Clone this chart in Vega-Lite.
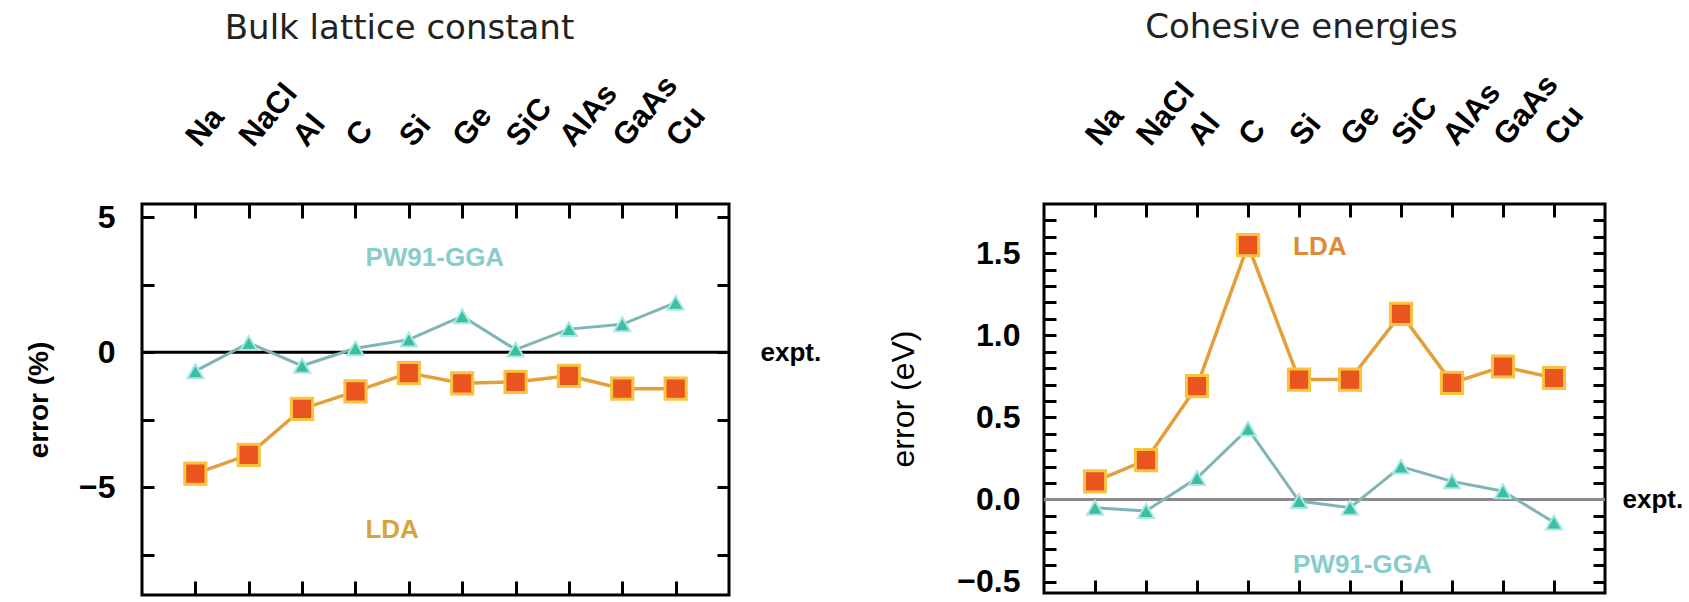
{
  "$schema": "https://vega.github.io/schema/vega-lite/v6.json",
  "background": "white",
  "padding": {"left": 24, "top": 9, "right": 0, "bottom": 0},
  "spacing": 63,
  "datasets": {
    "lattice": [
      {"material": "Na", "method": "LDA", "value": -4.5},
      {"material": "NaCl", "method": "LDA", "value": -3.8},
      {"material": "Al", "method": "LDA", "value": -2.1},
      {"material": "C", "method": "LDA", "value": -1.45},
      {"material": "Si", "method": "LDA", "value": -0.77},
      {"material": "Ge", "method": "LDA", "value": -1.15},
      {"material": "SiC", "method": "LDA", "value": -1.1},
      {"material": "AlAs", "method": "LDA", "value": -0.87},
      {"material": "GaAs", "method": "LDA", "value": -1.35},
      {"material": "Cu", "method": "LDA", "value": -1.35},
      {"material": "Na", "method": "PW91-GGA", "value": -0.7},
      {"material": "NaCl", "method": "PW91-GGA", "value": 0.35},
      {"material": "Al", "method": "PW91-GGA", "value": -0.5},
      {"material": "C", "method": "PW91-GGA", "value": 0.15},
      {"material": "Si", "method": "PW91-GGA", "value": 0.47},
      {"material": "Ge", "method": "PW91-GGA", "value": 1.34},
      {"material": "SiC", "method": "PW91-GGA", "value": 0.1},
      {"material": "AlAs", "method": "PW91-GGA", "value": 0.86},
      {"material": "GaAs", "method": "PW91-GGA", "value": 1.04},
      {"material": "Cu", "method": "PW91-GGA", "value": 1.84}
    ],
    "cohesive": [
      {"material": "Na", "method": "LDA", "value": 0.11},
      {"material": "NaCl", "method": "LDA", "value": 0.24},
      {"material": "Al", "method": "LDA", "value": 0.69},
      {"material": "C", "method": "LDA", "value": 1.55},
      {"material": "Si", "method": "LDA", "value": 0.73},
      {"material": "Ge", "method": "LDA", "value": 0.73},
      {"material": "SiC", "method": "LDA", "value": 1.13},
      {"material": "AlAs", "method": "LDA", "value": 0.71},
      {"material": "GaAs", "method": "LDA", "value": 0.81},
      {"material": "Cu", "method": "LDA", "value": 0.74},
      {"material": "Na", "method": "PW91-GGA", "value": -0.05},
      {"material": "NaCl", "method": "PW91-GGA", "value": -0.07},
      {"material": "Al", "method": "PW91-GGA", "value": 0.13},
      {"material": "C", "method": "PW91-GGA", "value": 0.43},
      {"material": "Si", "method": "PW91-GGA", "value": -0.01},
      {"material": "Ge", "method": "PW91-GGA", "value": -0.05},
      {"material": "SiC", "method": "PW91-GGA", "value": 0.2},
      {"material": "AlAs", "method": "PW91-GGA", "value": 0.11},
      {"material": "GaAs", "method": "PW91-GGA", "value": 0.05},
      {"material": "Cu", "method": "PW91-GGA", "value": -0.14}
    ],
    "lattice_labels": [
      {"material": "C", "value": 3.5, "label": "PW91-GGA"},
      {"material": "C", "value": -6.6, "label": "LDA"}
    ],
    "cohesive_labels": [
      {"material": "Si", "value": 1.54, "label": "LDA"},
      {"material": "Si", "value": -0.4, "label": "PW91-GGA"}
    ],
    "ref": [{"label": "expt.", "value": 0}]
  },
  "hconcat": [
    {
      "width": 587,
      "height": 391,
      "title": {"text": "Bulk lattice constant", "offset": 24, "dx": -36},
      "data": {"name": "lattice"},
      "layer": [
        {
          "data": {"name": "ref"},
          "mark": {"type": "rule", "color": "black", "strokeWidth": 3},
          "encoding": {
            "y": {"field": "value", "type": "quantitative", "axis": null, "scale": {"domain": [-9, 5.5], "nice": false, "zero": false}}
          }
        },
        {
          "transform": [{"filter": "datum.method == 'PW91-GGA'"}],
          "mark": {"type": "line", "color": "#7fb5b5", "strokeWidth": 3},
          "encoding": {
            "x": {"field": "material", "type": "nominal", "scale": {"type": "point", "padding": 1, "domain": ["Na","NaCl","Al","C","Si","Ge","SiC","AlAs","GaAs","Cu"]},
                  "axis": {"orient": "bottom", "title": null, "labels": false, "tickSize": -14}},
            "y": {"field": "value", "type": "quantitative", "scale": {"domain": [-9, 5.5], "nice": false, "zero": false},
                  "axis": {"orient": "right", "title": null, "values": [5, 2.5, 0, -2.5, -5, -7.5], "labelExpr": "datum.value == 0 ? 'expt.' : ''", "labelFontSize": 26, "labelPadding": 43, "tickSize": -12}}
          }
        },
        {
          "transform": [{"filter": "datum.method == 'PW91-GGA'"}],
          "mark": {"type": "point", "shape": "triangle-up", "filled": true, "size": 260, "fill": "#3dbf9f", "stroke": "#a8e8e8", "strokeWidth": 2, "opacity": 1},
          "encoding": {
            "x": {"field": "material", "type": "nominal", "axis": null},
            "y": {"field": "value", "type": "quantitative", "axis": null}
          }
        },
        {
          "transform": [{"filter": "datum.method == 'LDA'"}],
          "mark": {"type": "line", "color": "#e3a03a", "strokeWidth": 3.5},
          "encoding": {
            "x": {"field": "material", "type": "nominal",
                  "axis": {"orient": "top", "title": null, "labelAngle": -50, "labelAlign": "left", "labelBaseline": "middle", "labelFontSize": 31, "labelPadding": 76, "labelOffset": -3, "tickSize": -14, "labelOverlap": false, "labelFlush": false}},
            "y": {"field": "value", "type": "quantitative",
                  "axis": {"orient": "left", "title": "error (%)", "titleFontSize": 28, "titleFontWeight": "bold", "titlePadding": 25, "values": [5, 2.5, 0, -2.5, -5, -7.5], "labelExpr": "datum.value % 5 == 0 ? format(datum.value, 'd') : ''", "labelFontSize": 32, "labelPadding": 39, "tickSize": -12}}
          }
        },
        {
          "transform": [{"filter": "datum.method == 'LDA'"}],
          "mark": {"type": "point", "shape": "square", "filled": true, "size": 450, "fill": "#e9541f", "stroke": "#f8c440", "strokeWidth": 3, "opacity": 1},
          "encoding": {
            "x": {"field": "material", "type": "nominal", "axis": null},
            "y": {"field": "value", "type": "quantitative", "axis": null}
          }
        },
        {
          "data": {"name": "lattice_labels"},
          "mark": {"type": "text", "align": "left", "baseline": "middle", "dx": 10, "font": "Liberation Sans", "fontWeight": "bold", "fontSize": 26},
          "encoding": {
            "x": {"field": "material", "type": "nominal", "axis": null},
            "y": {"field": "value", "type": "quantitative", "axis": null},
            "text": {"field": "label"},
            "color": {"condition": {"test": "datum.label == 'LDA'", "value": "#d6a43a"}, "value": "#88cccc"}
          }
        }
      ],
      "resolve": {"axis": {"x": "independent", "y": "independent"}}
    },
    {
      "width": 561,
      "height": 389,
      "title": {"text": "Cohesive energies", "offset": 24, "dx": -23},
      "data": {"name": "cohesive"},
      "layer": [
        {
          "data": {"name": "ref"},
          "mark": {"type": "rule", "color": "#8a8a8a", "strokeWidth": 3},
          "encoding": {
            "y": {"field": "value", "type": "quantitative", "axis": null, "scale": {"domain": [-0.57, 1.8], "nice": false, "zero": false}}
          }
        },
        {
          "transform": [{"filter": "datum.method == 'PW91-GGA'"}],
          "mark": {"type": "line", "color": "#7fb5b5", "strokeWidth": 3},
          "encoding": {
            "x": {"field": "material", "type": "nominal", "scale": {"type": "point", "padding": 1, "domain": ["Na","NaCl","Al","C","Si","Ge","SiC","AlAs","GaAs","Cu"]},
                  "axis": {"orient": "bottom", "title": null, "labels": false, "tickSize": -13}},
            "y": {"field": "value", "type": "quantitative", "scale": {"domain": [-0.57, 1.8], "nice": false, "zero": false},
                  "axis": {"orient": "right", "title": null, "values": [-0.5,-0.4,-0.3,-0.2,-0.1,0,0.1,0.2,0.3,0.4,0.5,0.6,0.7,0.8,0.9,1,1.1,1.2,1.3,1.4,1.5,1.6,1.7], "labelExpr": "datum.value == 0 ? 'expt.' : ''", "labelFontSize": 26, "labelPadding": 29, "tickSize": -12}}
          }
        },
        {
          "transform": [{"filter": "datum.method == 'PW91-GGA'"}],
          "mark": {"type": "point", "shape": "triangle-up", "filled": true, "size": 260, "fill": "#3dbf9f", "stroke": "#a8e8e8", "strokeWidth": 2, "opacity": 1},
          "encoding": {
            "x": {"field": "material", "type": "nominal", "axis": null},
            "y": {"field": "value", "type": "quantitative", "axis": null}
          }
        },
        {
          "transform": [{"filter": "datum.method == 'LDA'"}],
          "mark": {"type": "line", "color": "#e3a03a", "strokeWidth": 3.5},
          "encoding": {
            "x": {"field": "material", "type": "nominal",
                  "axis": {"orient": "top", "title": null, "labelAngle": -50, "labelAlign": "left", "labelBaseline": "middle", "labelFontSize": 31, "labelPadding": 76, "labelOffset": -3, "tickSize": -13, "labelOverlap": false, "labelFlush": false}},
            "y": {"field": "value", "type": "quantitative",
                  "axis": {"orient": "left", "title": "error (eV)", "titleFontSize": 32, "titleFontWeight": "normal", "titlePadding": 36, "values": [-0.5,-0.4,-0.3,-0.2,-0.1,0,0.1,0.2,0.3,0.4,0.5,0.6,0.7,0.8,0.9,1,1.1,1.2,1.3,1.4,1.5,1.6,1.7], "labelExpr": "abs(datum.value * 2 - round(datum.value * 2)) < 0.01 ? format(datum.value, '.1f') : ''", "labelFontSize": 32, "labelPadding": 36, "tickSize": -12}}
          }
        },
        {
          "transform": [{"filter": "datum.method == 'LDA'"}],
          "mark": {"type": "point", "shape": "square", "filled": true, "size": 450, "fill": "#e9541f", "stroke": "#f8c440", "strokeWidth": 3, "opacity": 1},
          "encoding": {
            "x": {"field": "material", "type": "nominal", "axis": null},
            "y": {"field": "value", "type": "quantitative", "axis": null}
          }
        },
        {
          "data": {"name": "cohesive_labels"},
          "mark": {"type": "text", "align": "left", "baseline": "middle", "dx": -6, "font": "Liberation Sans", "fontWeight": "bold", "fontSize": 26},
          "encoding": {
            "x": {"field": "material", "type": "nominal", "axis": null},
            "y": {"field": "value", "type": "quantitative", "axis": null},
            "text": {"field": "label"},
            "color": {"condition": {"test": "datum.label == 'LDA'", "value": "#e08a35"}, "value": "#88cccc"}
          }
        }
      ],
      "resolve": {"axis": {"x": "independent", "y": "independent"}}
    }
  ],
  "config": {
    "view": {"stroke": "black", "strokeWidth": 3},
    "axis": {"domain": false, "grid": false, "tickColor": "black", "tickWidth": 3, "labelFont": "Liberation Sans", "labelFontWeight": "bold", "labelColor": "black", "titleFont": "Liberation Sans", "titleColor": "black"},
    "title": {"font": "DejaVu Sans", "fontSize": 34, "fontWeight": "normal", "color": "#222222"}
  }
}
